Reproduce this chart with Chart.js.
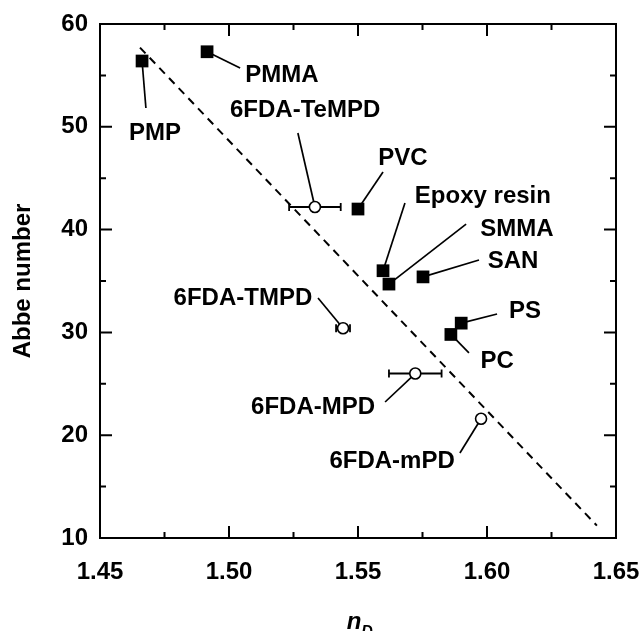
<!DOCTYPE html>
<html>
<head>
<meta charset="utf-8">
<script src="https://cdn.jsdelivr.net/npm/chart.js@4/dist/chart.umd.min.js"></script>
<style>
  html, body { margin: 0; padding: 0; background: #fff; }
  canvas { display: block; }
</style>
</head>
<body>
<canvas id="abbe-chart" width="642" height="631"></canvas>
<script>
// conventional polymers (filled squares)
const polyNames = ['PMP', 'PMMA', 'PVC', 'Epoxy resin', 'SMMA', 'SAN', 'PS', 'PC'];
const polyN = [1.4663, 1.4915, 1.5500, 1.5597, 1.5620, 1.5752, 1.5900, 1.5860];
const polyAbbe = [56.4, 57.3, 42.0, 36.0, 34.7, 35.4, 30.9, 29.8];

// 6FDA polyimides (open circles) with n_D error
const piNames = ['6FDA-TeMPD', '6FDA-TMPD', '6FDA-MPD', '6FDA-mPD'];
const piN = [1.5333, 1.5442, 1.5722, 1.5977];
const piAbbe = [42.2, 30.4, 26.0, 21.6];
const piNErr = [0.0100, 0.0027, 0.0102, 0];

// dashed trend line
const fitN = [1.4655, 1.6426];
const fitAbbe = [57.7, 11.2];

const xTicks = [1.45, 1.50, 1.55, 1.60, 1.65];
const yTicks = [10, 20, 30, 40, 50, 60];

// where the name labels sit (data units) and where leader lines end
const polyLabelAt = [[1.4713, 48.72], [1.5205, 54.36], [1.5674, 46.28], [1.5984, 42.59], [1.6116, 39.38], [1.6101, 36.26], [1.6147, 31.40], [1.6039, 26.54]];
const polyLeaderTo = [[1.4678, 51.83], [1.5043, 55.72], [1.5597, 45.60], [1.5682, 42.59], [1.5919, 40.54], [1.5969, 37.04], [1.6039, 31.79], [1.5930, 28.0]];
const piLabelAt = [[1.5295, 50.94], [1.5054, 32.67], [1.5326, 22.06], [1.5632, 16.81]];
const piLeaderTo = [[1.5267, 49.40], [1.5345, 33.35], [1.5605, 23.23], [1.5895, 18.27]];

const FONT = '"Liberation Sans", Arial, Helvetica, sans-serif';

function minorOf(ticks) {
  const out = [];
  for (let i = 0; i < ticks.length - 1; i++) out.push((ticks[i] + ticks[i + 1]) / 2);
  return out;
}

const decor = {
  id: 'decor',
  beforeDraw(chart) {
    const c = chart.ctx;
    c.save();
    c.fillStyle = '#fff';
    c.fillRect(0, 0, chart.width, chart.height);
    c.restore();
  },
  beforeDatasetsDraw(chart) {
    const c = chart.ctx, x = chart.scales.x, y = chart.scales.y;
    c.save();
    c.strokeStyle = '#000';
    // leader lines
    c.lineWidth = 1.7;
    const leader = (px, py, to) => {
      c.beginPath();
      c.moveTo(x.getPixelForValue(px), y.getPixelForValue(py));
      c.lineTo(x.getPixelForValue(to[0]), y.getPixelForValue(to[1]));
      c.stroke();
    };
    polyN.forEach((v, i) => leader(v, polyAbbe[i], polyLeaderTo[i]));
    piN.forEach((v, i) => leader(v, piAbbe[i], piLeaderTo[i]));
    // error bars
    c.lineWidth = 1.8;
    piN.forEach((v, i) => {
      if (!piNErr[i]) return;
      const x0 = x.getPixelForValue(v - piNErr[i]), x1 = x.getPixelForValue(v + piNErr[i]);
      const py = y.getPixelForValue(piAbbe[i]);
      c.beginPath();
      c.moveTo(x0, py); c.lineTo(x1, py);
      c.moveTo(x0, py - 4); c.lineTo(x0, py + 4);
      c.moveTo(x1, py - 4); c.lineTo(x1, py + 4);
      c.stroke();
    });
    c.restore();
  },
  afterDatasetsDraw(chart) {
    const c = chart.ctx, x = chart.scales.x, y = chart.scales.y;
    const a = chart.chartArea;
    c.save();
    // frame
    c.strokeStyle = '#000';
    c.lineWidth = 2;
    c.strokeRect(a.left, a.top, a.right - a.left, a.bottom - a.top);
    // inward ticks on all four sides
    const tick = (vals, len) => {
      vals.forEach(v => {
        const px = x.getPixelForValue(v);
        c.beginPath();
        c.moveTo(px, a.bottom); c.lineTo(px, a.bottom - len);
        c.moveTo(px, a.top); c.lineTo(px, a.top + len);
        c.stroke();
      });
    };
    const tickY = (vals, len) => {
      vals.forEach(v => {
        const py = y.getPixelForValue(v);
        c.beginPath();
        c.moveTo(a.left, py); c.lineTo(a.left + len, py);
        c.moveTo(a.right, py); c.lineTo(a.right - len, py);
        c.stroke();
      });
    };
    tick(xTicks, 12); tick(minorOf(xTicks), 6);
    tickY(yTicks, 12); tickY(minorOf(yTicks), 6);

    // point labels
    c.fillStyle = '#000';
    c.font = 'bold 24px ' + FONT;
    c.textAlign = 'center';
    c.textBaseline = 'alphabetic';
    polyNames.forEach((t, i) => c.fillText(t, x.getPixelForValue(polyLabelAt[i][0]), y.getPixelForValue(polyLabelAt[i][1])));
    piNames.forEach((t, i) => c.fillText(t, x.getPixelForValue(piLabelAt[i][0]), y.getPixelForValue(piLabelAt[i][1])));

    // x axis title: italic n with subscript D
    const cx = (a.left + a.right) / 2;
    c.font = 'italic bold 24px ' + FONT;
    c.textAlign = 'left';
    const nW = c.measureText('n').width;
    c.fillText('n', cx - nW / 2 - 4, 629);
    c.font = 'italic bold 16px ' + FONT;
    c.fillText('D', cx + nW / 2 - 4, 637);
    c.restore();
  }
};

const ctx = document.getElementById('abbe-chart');
new Chart(ctx, {
  type: 'scatter',
  data: {
    datasets: [
      {
        label: 'polymers',
        data: polyN.map((v, i) => ({ x: v, y: polyAbbe[i] })),
        pointStyle: 'rect', pointRadius: 9, pointHoverRadius: 9,
        backgroundColor: '#000', borderColor: '#000', borderWidth: 0
      },
      {
        label: '6FDA polyimides',
        data: piN.map((v, i) => ({ x: v, y: piAbbe[i] })),
        pointStyle: 'circle', pointRadius: 5.5, pointHoverRadius: 5.5,
        backgroundColor: '#fff', borderColor: '#000', borderWidth: 1.6
      },
      {
        label: 'trend',
        type: 'line',
        data: fitN.map((v, i) => ({ x: v, y: fitAbbe[i] })),
        borderColor: '#000', borderWidth: 2, borderDash: [8, 6],
        pointRadius: 0, fill: false, tension: 0
      }
    ]
  },
  options: {
    responsive: false,
    animation: false,
    devicePixelRatio: 1,
    layout: { padding: { top: 24, right: 26, left: 0, bottom: 0 } },
    plugins: { legend: { display: false }, tooltip: { enabled: false } },
    scales: {
      x: {
        type: 'linear', min: 1.45, max: 1.65,
        afterBuildTicks: s => { s.ticks = xTicks.map(v => ({ value: v })); },
        afterFit: s => { s.height = 93; s.paddingLeft = 0; s.paddingRight = 0; },
        grid: { display: false, drawTicks: false },
        border: { display: false },
        ticks: {
          color: '#000', padding: 20, maxRotation: 0, autoSkip: false,
          font: { family: FONT, size: 24, weight: 'bold' },
          callback: v => v.toFixed(2)
        }
      },
      y: {
        type: 'linear', min: 10, max: 60,
        afterBuildTicks: s => { s.ticks = yTicks.map(v => ({ value: v })); },
        afterFit: s => { s.width = 100; s.paddingTop = 0; s.paddingBottom = 0; },
        grid: { display: false, drawTicks: false },
        border: { display: false },
        ticks: {
          color: '#000', padding: 12, autoSkip: false,
          font: { family: FONT, size: 24, weight: 'bold' }
        },
        title: {
          display: true, text: 'Abbe number', color: '#000',
          font: { family: FONT, size: 24, weight: 'bold' },
          padding: { top: 9, bottom: 0 }
        }
      }
    }
  },
  plugins: [decor]
});
</script>
</body>
</html>
